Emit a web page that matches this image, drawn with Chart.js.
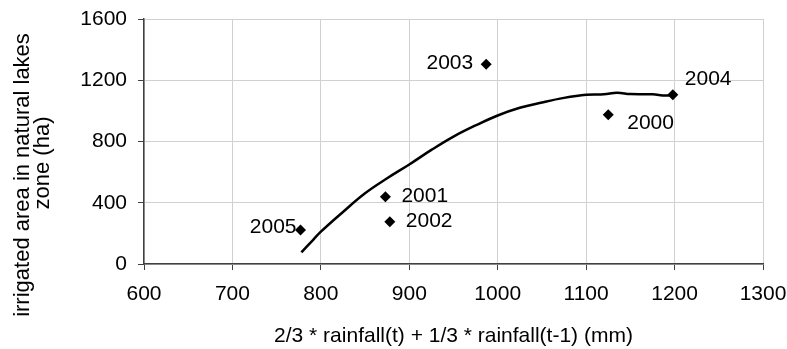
<!DOCTYPE html>
<html>
<head>
<meta charset="utf-8">
<script src="https://cdn.jsdelivr.net/npm/chart.js@4"></script>
<style>
  html, body { margin: 0; padding: 0; background: #fff; }
  #wrap { width: 787px; height: 349px; position: relative; }
</style>
</head>
<body>
<div id="wrap"><canvas id="chart"></canvas></div>
<script>
// observed years
const years = ['2000', '2001', '2002', '2003', '2004', '2005'];
const rainfall = [1125, 873, 878, 987, 1198, 777];
const irrigated = [975, 440, 276, 1305, 1105, 222];

// trend curve as drawn
const curveX = [778, 790, 800, 825, 850, 875, 900, 925, 950, 975, 1000, 1025, 1050, 1075, 1100, 1120, 1135, 1150, 1175, 1190, 1198];
const curveY = [76, 150, 211, 340, 462, 560, 650, 745, 832, 905, 970, 1020, 1055, 1085, 1105, 1108, 1118, 1110, 1108, 1100, 1105];

const xTicks = [600, 700, 800, 900, 1000, 1100, 1200, 1300];
const yTicks = [0, 400, 800, 1200, 1600];
const yTitle = ['irrigated area in natural lakes', 'zone (ha)'];

// label offsets in px (dx, dy, align) per year
const labelPos = {
    '2000': [19, 8, 'left'],
    '2001': [16, 0, 'left'],
    '2002': [16, -1, 'left'],
    '2003': [-13, -1, 'right'],
    '2004': [12, -16, 'left'],
    '2005': [-4, -3, 'right']
};

const font = 'Liberation Sans, Arial, sans-serif';

const yearLabels = {
    id: 'yearLabels',
    afterDatasetsDraw(chart) {
        const ctx = chart.ctx;
        const meta = chart.getDatasetMeta(1);
        ctx.save();
        ctx.font = '21px ' + font;
        ctx.fillStyle = '#000';
        ctx.textBaseline = 'middle';
        meta.data.forEach(function (pt, i) {
            const p = labelPos[years[i]];
            ctx.textAlign = p[2];
            ctx.fillText(years[i], pt.x + p[0], pt.y + p[1]);
        });
        ctx.restore();
    }
};

// y title drawn by hand, it sits lower than the plot centre in the original
const yTitlePlugin = {
    id: 'yTitlePlugin',
    afterDraw(chart) {
        const ctx = chart.ctx;
        const spots = [[29, 175], [49, 163]];
        ctx.save();
        ctx.font = '22px ' + font;
        ctx.fillStyle = '#000';
        ctx.textAlign = 'center';
        ctx.textBaseline = 'alphabetic';
        yTitle.forEach(function (t, i) {
            ctx.save();
            ctx.translate(spots[i][0], spots[i][1]);
            ctx.rotate(-Math.PI / 2);
            ctx.fillText(t, 0, 0);
            ctx.restore();
        });
        ctx.restore();
    }
};

new Chart(document.getElementById('chart').getContext('2d'), {
    type: 'scatter',
    data: {
        datasets: [
            {
                label: 'trend',
                type: 'line',
                data: curveX.map((x, i) => ({ x: x, y: curveY[i] })),
                borderColor: '#000',
                borderWidth: 2.5,
                pointRadius: 0,
                tension: 0.4,
                fill: false,
                order: 2
            },
            {
                label: 'years',
                data: rainfall.map((x, i) => ({ x: x, y: irrigated[i] })),
                pointStyle: 'rectRot',
                pointRadius: 5.5,
                backgroundColor: '#000',
                borderColor: '#000',
                borderWidth: 0,
                order: 1
            }
        ]
    },
    options: {
        responsive: true,
        maintainAspectRatio: false,
        animation: false,
        layout: { padding: { top: 19, right: 24, left: 0, bottom: 0 } },
        plugins: {
            legend: { display: false },
            tooltip: { enabled: false }
        },
        scales: {
            x: {
                type: 'linear',
                min: 600,
                max: 1300,
                afterBuildTicks: s => { s.ticks = xTicks.map(v => ({ value: v })); },
                afterFit: s => { s.height = 85; s.paddingLeft = 0; s.paddingRight = 0; },
                grid: { color: '#d0d0d0', tickColor: '#404040', tickLength: 6, lineWidth: 1 },
                border: { color: '#404040', width: 1.5 },
                ticks: { color: '#000', font: { family: font, size: 21 }, padding: 12, callback: v => String(v) },
                title: {
                    display: true,
                    text: '2/3 * rainfall(t) + 1/3 * rainfall(t-1) (mm)',
                    color: '#000',
                    font: { family: font, size: 21 },
                    padding: { top: 2, bottom: 0 }
                }
            },
            y: {
                type: 'linear',
                min: 0,
                max: 1600,
                afterBuildTicks: s => { s.ticks = yTicks.map(v => ({ value: v })); },
                afterFit: s => { s.width = 144; s.paddingTop = 0; s.paddingBottom = 0; },
                grid: { color: '#d0d0d0', tickColor: '#404040', tickLength: 6, lineWidth: 1 },
                border: { color: '#404040', width: 1.5 },
                ticks: { color: '#000', font: { family: font, size: 21 }, padding: 11, callback: v => String(v) },
                title: { display: false }
            }
        }
    },
    plugins: [yearLabels, yTitlePlugin]
});
</script>
</body>
</html>
